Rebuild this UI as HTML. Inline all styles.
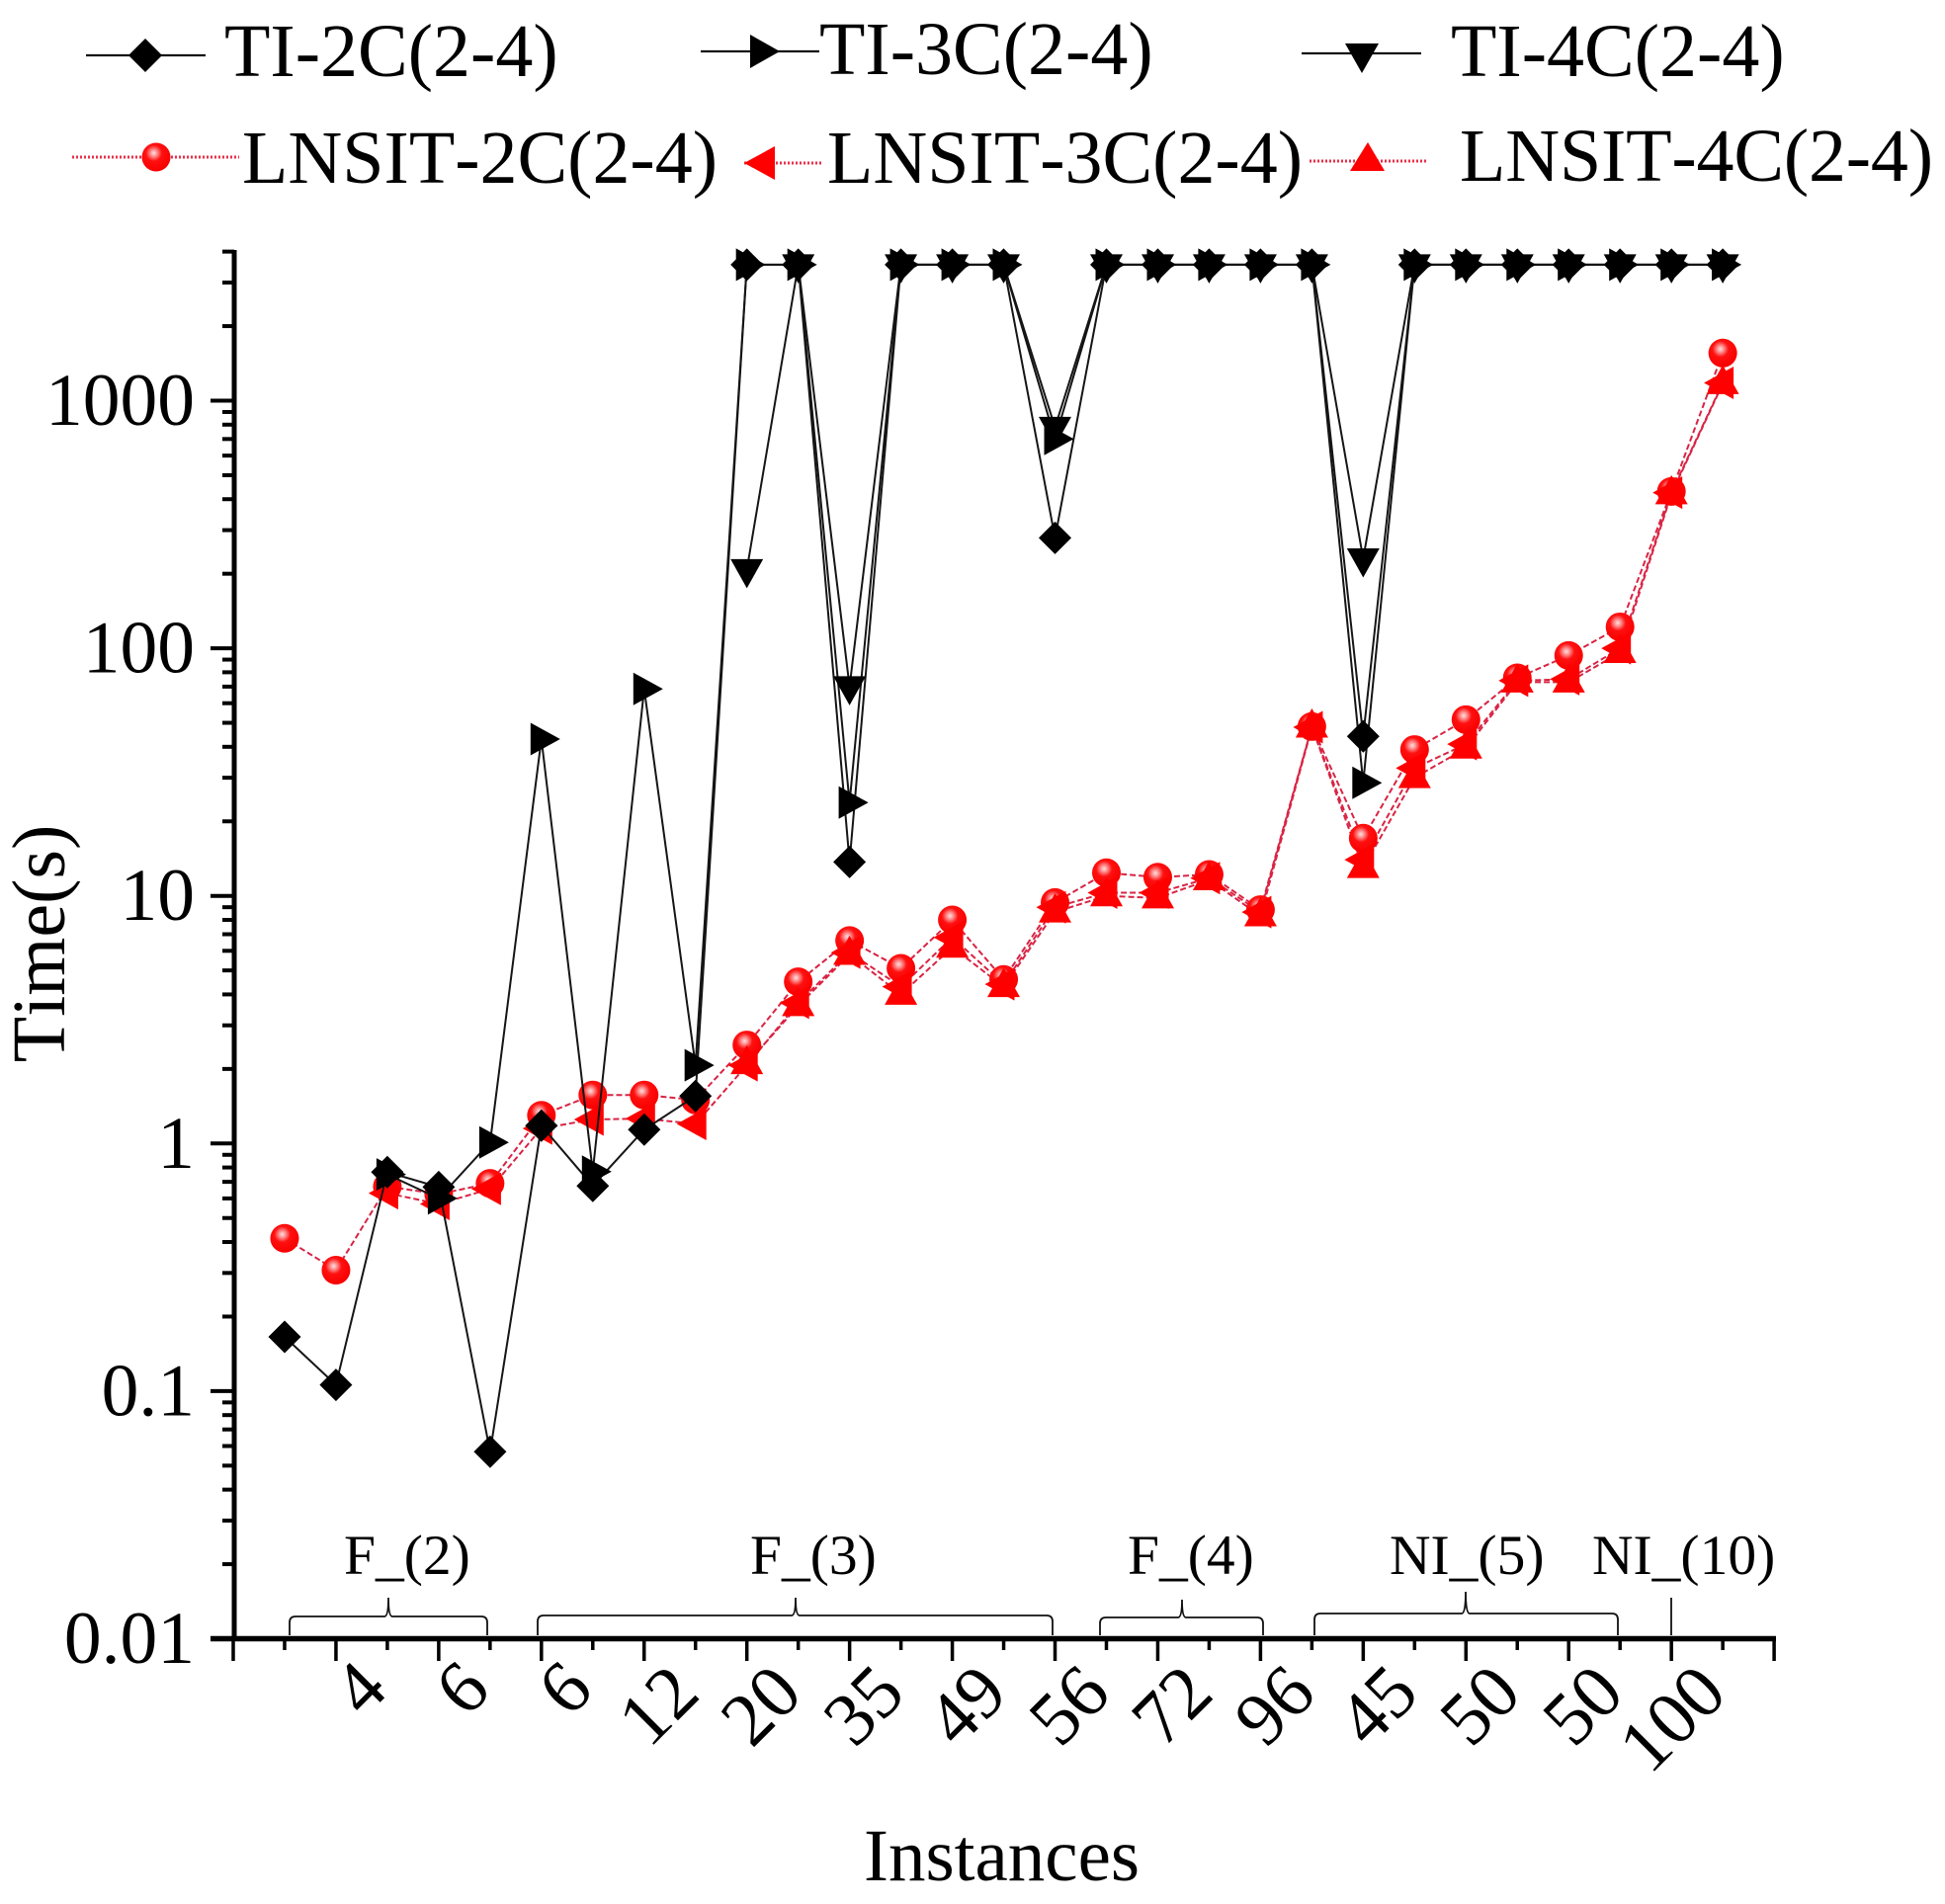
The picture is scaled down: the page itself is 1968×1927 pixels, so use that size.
<!DOCTYPE html>
<html>
<head>
<meta charset="utf-8">
<title>Time vs Instances</title>
<style>
html,body{margin:0;padding:0;background:#fff;}
svg{display:block;}
text{font-family:"Liberation Serif",serif;fill:#000;font-kerning:none;}
</style>
</head>
<body>
<svg id="chart" xmlns="http://www.w3.org/2000/svg" width="1968" height="1927" viewBox="0 0 1968 1927">
  <defs>
    <radialGradient id="ball" cx="0.42" cy="0.36" r="0.62" fx="0.42" fy="0.36">
      <stop offset="0" stop-color="#ffe0e0"/>
      <stop offset="0.2" stop-color="#ff8a8a"/>
      <stop offset="0.45" stop-color="#ff1010"/>
      <stop offset="1" stop-color="#f80000"/>
    </radialGradient>
  </defs>
  <rect width="1968" height="1927" fill="#fff"/>

  <g>
    <g>
      <line x1="87" y1="56" x2="208" y2="56" stroke="#111" stroke-width="2.2"/>
      <polygon points="147,39 164,56 147,73 130,56" fill="#000"/>
      <text x="227" y="77" font-size="76">TI-2C(2-4)</text>
    </g>
    <g>
      <line x1="709" y1="52" x2="829" y2="52" stroke="#111" stroke-width="2.2"/>
      <polygon points="759,35 789,52 759,69" fill="#000"/>
      <text x="829" y="75" font-size="76">TI-3C(2-4)</text>
    </g>
    <g>
      <line x1="1317" y1="54" x2="1438" y2="54" stroke="#111" stroke-width="2.2"/>
      <polygon points="1361,44 1395,44 1378,74" fill="#000"/>
      <text x="1468" y="77" font-size="76">TI-4C(2-4)</text>
    </g>
    <g>
      <line x1="73" y1="159" x2="242" y2="159" stroke="#e8304a" stroke-width="3" stroke-dasharray="2 2"/>
      <circle cx="158" cy="159" r="14.5" fill="url(#ball)"/>
      <text x="245" y="185" font-size="76" textLength="481" lengthAdjust="spacing">LNSIT-2C(2-4)</text>
    </g>
    <g>
      <line x1="753" y1="165" x2="832" y2="165" stroke="#e8304a" stroke-width="3" stroke-dasharray="2 2"/>
      <polygon points="753,165 784,148 784,182" fill="#f00"/>
      <text x="837" y="185" font-size="76" textLength="481" lengthAdjust="spacing">LNSIT-3C(2-4)</text>
    </g>
    <g>
      <line x1="1325" y1="163" x2="1443" y2="163" stroke="#e8304a" stroke-width="3" stroke-dasharray="2 2"/>
      <polygon points="1384,144 1401,173 1366,173" fill="#f00"/>
      <text x="1477" y="183" font-size="76" textLength="479" lengthAdjust="spacing">LNSIT-4C(2-4)</text>
    </g>
  </g>

  <text font-size="76" text-anchor="middle" transform="translate(65 955) rotate(-90)">Time(s)</text>
  <text font-size="75" x="874" y="1903">Instances</text>

  <g fill="none" stroke="#111" stroke-width="1.8">
    <path d="M293 1655 V1642 Q293 1636 299 1636 H389 Q393 1636 393 1617 Q393 1636 397 1636 H487 Q493 1636 493 1642 V1655"/>
    <path d="M544 1655 V1641 Q544 1635 550 1635 H801 Q805 1635 805 1617 Q805 1635 809 1635 H1059 Q1065 1635 1065 1641 V1655"/>
    <path d="M1113 1655 V1643 Q1113 1637 1119 1637 H1192 Q1196 1637 1196 1619 Q1196 1637 1200 1637 H1272 Q1278 1637 1278 1643 V1655"/>
    <path d="M1330 1655 V1639 Q1330 1633 1336 1633 H1479 Q1483 1633 1483 1611 Q1483 1633 1487 1633 H1631 Q1637 1633 1637 1639 V1655"/>
    <line x1="1691" y1="1617" x2="1691" y2="1655"/>
  </g>
  <g font-size="57.5">
    <text x="348" y="1593">F_(2)</text>
    <text x="759" y="1593">F_(3)</text>
    <text x="1141" y="1593">F_(4)</text>
    <text x="1406" y="1593">NI_(5)</text>
    <text x="1611" y="1593">NI_(10)</text>
  </g>
  <g id="axes"></g>
  <g id="series"></g>
</svg>
<script>
var T = 3540;
var positions = [1,2,3,4,5,6,7,8,9,10,11,12,13,14,15,16,17,18,19,20,21,22,23,24,25,26,27,28,29];
var xTickLabels = ["", "", "4", "", "6", "", "6", "", "12", "", "20", "", "35", "", "49", "", "56", "", "72", "", "96", "", "45", "", "50", "", "50", "", "100", "", ""];
var yTickValues = [0.01, 0.1, 1, 10, 100, 1000];
var yTickLabels = ["0.01", "0.1", "1", "10", "100", "1000"];

var lnsit2c = [0.414,0.308,0.67,0.625,0.69,1.3,1.57,1.57,1.5,2.5,4.5,6.6,5.1,8.0,4.6,9.4,12.4,11.9,12.2,8.8,48.3,17.1,39,51.5,76,93.5,122,430,1557];
var lnsit3c = [null,null,0.63,0.57,0.655,1.15,1.25,1.26,1.2,2.07,3.7,5.9,4.3,6.8,4.4,9.0,10.3,10.3,11.8,8.6,48,14,32.8,41,74,75,100,425,1180];
var lnsit4c = [null,null,null,null,null,null,null,null,null,2.1,3.6,5.8,4.0,6.2,4.3,8.6,10.0,9.8,11.6,8.3,48,13,30,39.5,73,73,96,420,1170];
var ti2c = [0.1656,0.106,0.766,0.667,0.0569,1.18,0.674,1.137,1.554,T,T,13.7,T,T,T,279,T,T,T,T,T,44.1,T,T,T,T,T,T,T];
var ti3c = [null,null,0.75,0.6,1.01,43,0.77,68.5,2.07,T,T,23.8,T,T,T,700,T,T,T,T,T,28.6,T,T,T,T,T,T,T];
var ti4c = [null,null,null,null,null,null,null,null,null,208,T,70,T,T,T,781,T,T,T,T,T,230,T,T,T,T,T,T,T];

var NS = "http://www.w3.org/2000/svg";
function xScale(k){ return 236 + k * 51.97; }
function yScale(v){ return 1658.5 - 250.6 * (Math.log10(v) + 2); }
function make(tag, attrs, parent){
  var el = document.createElementNS(NS, tag);
  for (var a in attrs) el.setAttribute(a, attrs[a]);
  parent.appendChild(el);
  return el;
}

var axes = document.getElementById("axes");
var yAxis = make("line", {x1:237, y1:253, x2:237, y2:1660, stroke:"#000", "stroke-width":5}, axes);


var xAxis = make("line", {x1:213, y1:1658.5, x2:1797, y2:1658.5, stroke:"#000", "stroke-width":5.5}, axes);



yTickValues.forEach(function(v, i){
  var py = yScale(v);
  var tick = make("line", {x1:213, y1:py, x2:237, y2:py, stroke:"#000", "stroke-width":4}, axes);
  
  
  var label = make("text", {x:197, y:py + 24.5, "font-size":75.5, "text-anchor":"end"}, axes);
  
  
  label.textContent = yTickLabels[i];
  for (var m = 2; m <= 9; m++) {
    var mv = v * m;
    if (mv > 4000) break;
    var my = yScale(mv);
    var minor = make("line", {x1:225, y1:my, x2:237, y2:my, stroke:"#000", "stroke-width":4}, axes);
    
    
  }
});

xTickLabels.forEach(function(lab, k){
  var px = xScale(k);
  var major = k % 2 === 0;
  var xt = make("line", {x1:px, y1:1658.5, x2:px, y2: major ? 1681 : 1670, stroke:"#000", "stroke-width":3.5}, axes);
  
  
  if (lab) {
    var single = lab.length === 1;
    var ex = px + 41 - (single ? 4 : 0);
    var ey = 1699 - (single ? 4 : 0);
    var t = make("text", {x:0, y:0, dy:"0.33em", "font-size":76, "text-anchor":"end", transform:"translate(" + ex + " " + ey + ") rotate(-45)"}, axes);
    
    
    t.textContent = lab;
  }
});

var seriesRoot = document.getElementById("series");

function drawLine(values, name, stroke, width, dash){
  var pts = [];
  values.forEach(function(v, i){
    if (v !== null) pts.push(xScale(positions[i]).toFixed(1) + "," + yScale(v).toFixed(1));
  });
  var attrs = {points: pts.join(" "), fill:"none", stroke: stroke, "stroke-width": width};
  if (dash) attrs["stroke-dasharray"] = dash;
  var pl = make("polyline", attrs, seriesRoot);
  
  
}

function drawMarker(kind, cx, cy, fill, name){
  var el;
  if (kind === "circle") {
    el = make("circle", {cx:cx, cy:cy, r:14.5, fill:"url(#ball)"}, seriesRoot);
  } else {
    var p;
    if (kind === "diamond") p = [[0,-16.5],[16.5,0],[0,16.5],[-16.5,0]];
    if (kind === "right") p = [[-11,-16.5],[19,0],[-11,16.5]];
    if (kind === "left") p = [[-19,0],[11,-16.5],[11,16.5]];
    if (kind === "down") p = [[-16.5,-10.5],[16.5,-10.5],[0,19]];
    if (kind === "up") p = [[-16.5,10.5],[16.5,10.5],[0,-19]];
    var s = p.map(function(q){ return (cx + q[0]).toFixed(1) + "," + (cy + q[1]).toFixed(1); }).join(" ");
    el = make("polygon", {points:s, fill:fill}, seriesRoot);
  }
  
  
}

function drawMarkers(values, kind, fill, name){
  values.forEach(function(v, i){
    if (v !== null) drawMarker(kind, xScale(positions[i]), yScale(v), fill, name);
  });
}

var redStroke = "#d92444";
var blackStroke = "#151515";
drawLine(lnsit2c, "lnsit-2c", redStroke, 2, "6 3");
drawLine(lnsit3c, "lnsit-3c", redStroke, 2, "6 3");
drawLine(lnsit4c, "lnsit-4c", redStroke, 2, "6 3");
drawMarkers(lnsit2c, "circle", "#f00", "lnsit-2c");
drawMarkers(lnsit3c, "left", "#f00", "lnsit-3c");
drawMarkers(lnsit4c, "up", "#f00", "lnsit-4c");
drawLine(ti4c, "ti-4c", blackStroke, 2, null);
drawLine(ti3c, "ti-3c", blackStroke, 2, null);
drawLine(ti2c, "ti-2c", blackStroke, 2, null);
drawMarkers(ti2c, "diamond", "#000", "ti-2c");
drawMarkers(ti3c, "right", "#000", "ti-3c");
drawMarkers(ti4c, "down", "#000", "ti-4c");
</script>
</body>
</html>
